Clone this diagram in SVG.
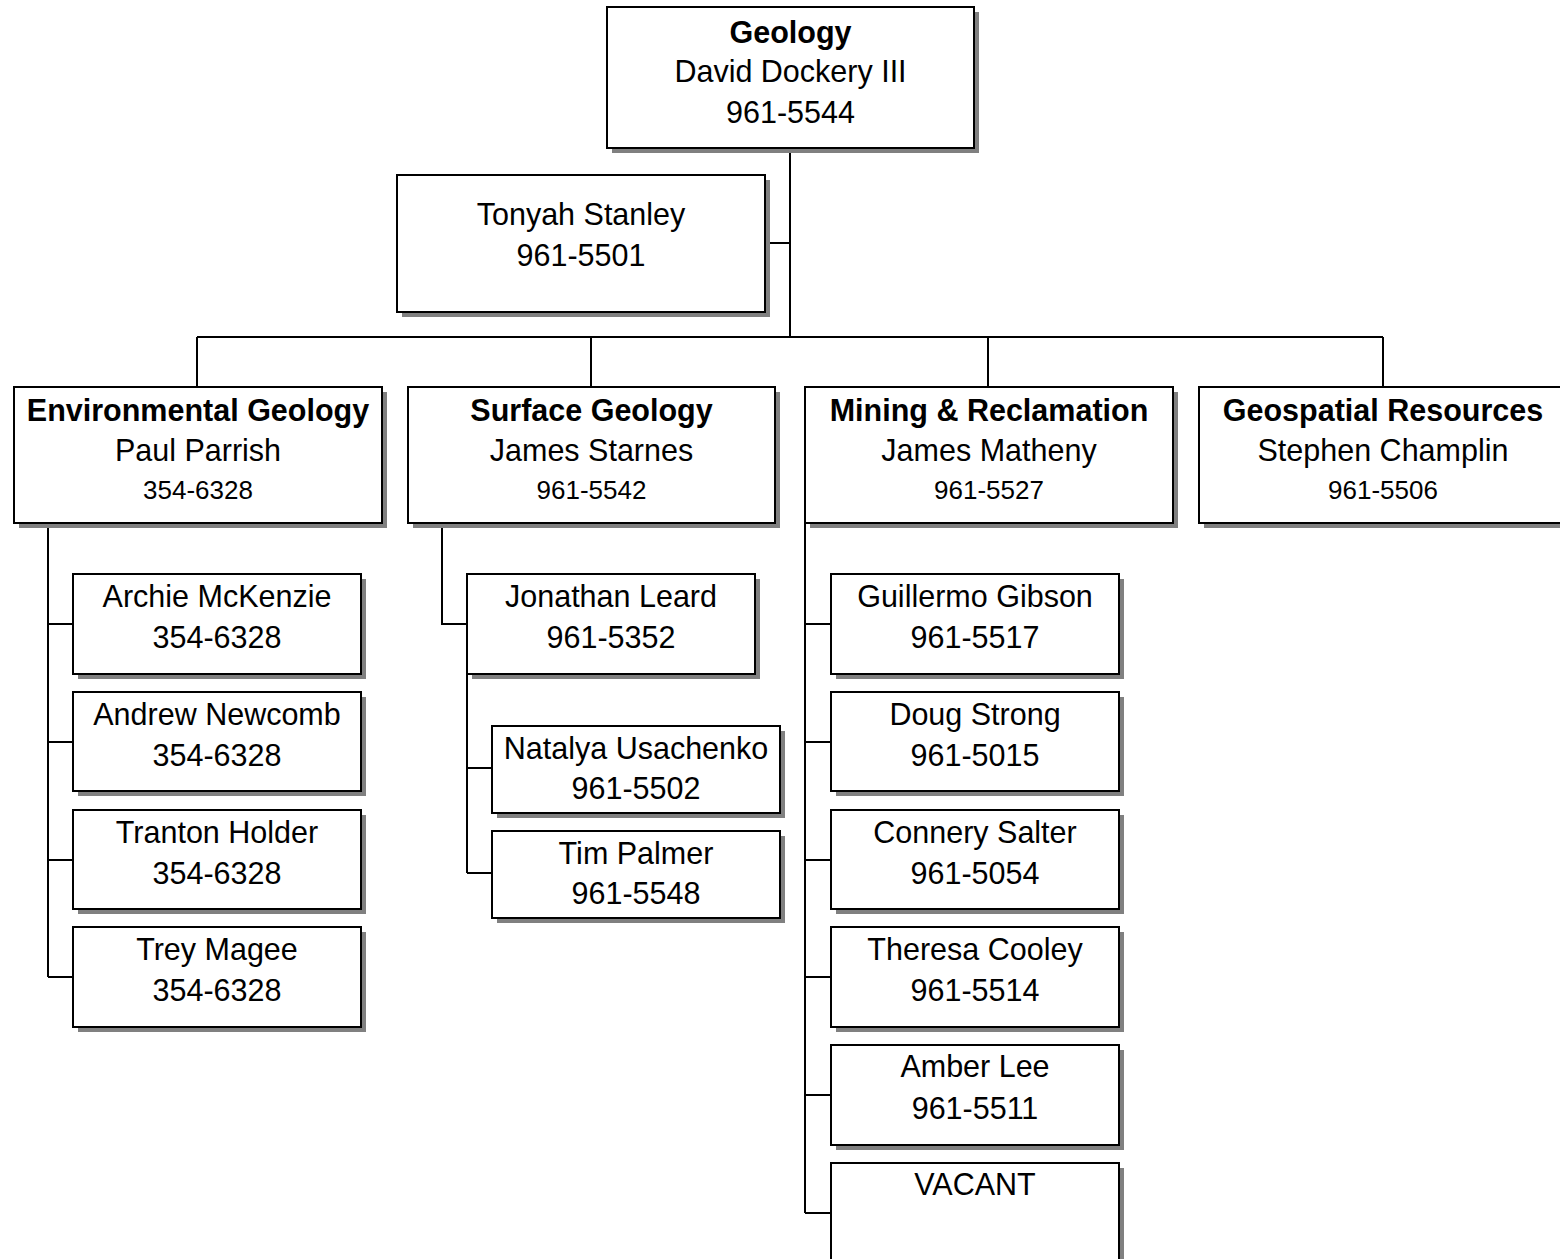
<svg xmlns="http://www.w3.org/2000/svg" width="1560" height="1259" viewBox="0 0 1560 1259">
<style>
.sh{fill:#808080;stroke:none}
.bx{fill:#ffffff;stroke:#000000;stroke-width:2}
text{font-family:"Liberation Sans",Arial,sans-serif;font-size:30.5px;fill:#000000;text-anchor:middle}
.b{font-weight:bold}
.p{font-size:26px}
.c{fill:none;stroke:#000000;stroke-width:2}
</style>
<rect width="1560" height="1259" fill="#ffffff"/>
<g id="connectors">
<path class="c" d="M790,148 V337 M765,243 H790 M197,337 H1383 M197,337 V387 M591,337 V387 M988,337 V387 M1383,337 V387"/>
<path class="c" d="M48,523 V977 M48,624 H73 M48,742 H73 M48,860 H73 M48,977 H73"/>
<path class="c" d="M442,523 V624 H467 M467,674 V873 M467,768 H492 M467,873 H492"/>
<path class="c" d="M805,523 V1213 M805,624 H831 M805,742 H831 M805,860 H831 M805,977 H831 M805,1095 H831 M805,1213 H831"/>
</g>
<g id="geology">
<rect class="sh" x="612" y="12" width="367" height="141"/>
<rect class="bx" x="607" y="7" width="367" height="141"/>
<text x="790.5" y="43" class="b">Geology</text>
<text x="790.5" y="82">David Dockery III</text>
<text x="790.5" y="123">961-5544</text>
</g>
<g id="tonyah">
<rect class="sh" x="402" y="180" width="368" height="137"/>
<rect class="bx" x="397" y="175" width="368" height="137"/>
<text x="581" y="225">Tonyah Stanley</text>
<text x="581" y="266">961-5501</text>
</g>
<g id="env">
<rect class="sh" x="19" y="392" width="368" height="136"/>
<rect class="bx" x="14" y="387" width="368" height="136"/>
<text x="198" y="421" class="b">Environmental Geology</text>
<text x="198" y="461">Paul Parrish</text>
<text x="198" y="499" class="p">354-6328</text>
</g>
<g id="surface">
<rect class="sh" x="413" y="392" width="367" height="136"/>
<rect class="bx" x="408" y="387" width="367" height="136"/>
<text x="591.5" y="421" class="b">Surface Geology</text>
<text x="591.5" y="461">James Starnes</text>
<text x="591.5" y="499" class="p">961-5542</text>
</g>
<g id="mining">
<rect class="sh" x="810" y="392" width="368" height="136"/>
<rect class="bx" x="805" y="387" width="368" height="136"/>
<text x="989" y="421" class="b">Mining &amp; Reclamation</text>
<text x="989" y="461">James Matheny</text>
<text x="989" y="499" class="p">961-5527</text>
</g>
<g id="geospatial">
<rect class="sh" x="1204" y="392" width="368" height="136"/>
<rect class="bx" x="1199" y="387" width="368" height="136"/>
<text x="1383" y="421" class="b">Geospatial Resources</text>
<text x="1383" y="461">Stephen Champlin</text>
<text x="1383" y="499" class="p">961-5506</text>
</g>
<g id="archie">
<rect class="sh" x="78" y="579" width="288" height="100"/>
<rect class="bx" x="73" y="574" width="288" height="100"/>
<text x="217" y="607">Archie McKenzie</text>
<text x="217" y="648">354-6328</text>
</g>
<g id="andrew">
<rect class="sh" x="78" y="697" width="288" height="99"/>
<rect class="bx" x="73" y="692" width="288" height="99"/>
<text x="217" y="725">Andrew Newcomb</text>
<text x="217" y="766">354-6328</text>
</g>
<g id="tranton">
<rect class="sh" x="78" y="815" width="288" height="99"/>
<rect class="bx" x="73" y="810" width="288" height="99"/>
<text x="217" y="843">Tranton Holder</text>
<text x="217" y="884">354-6328</text>
</g>
<g id="trey">
<rect class="sh" x="78" y="932" width="288" height="100"/>
<rect class="bx" x="73" y="927" width="288" height="100"/>
<text x="217" y="960">Trey Magee</text>
<text x="217" y="1001">354-6328</text>
</g>
<g id="jonathan">
<rect class="sh" x="472" y="579" width="288" height="100"/>
<rect class="bx" x="467" y="574" width="288" height="100"/>
<text x="611" y="607">Jonathan Leard</text>
<text x="611" y="648">961-5352</text>
</g>
<g id="natalya">
<rect class="sh" x="497" y="731" width="288" height="87"/>
<rect class="bx" x="492" y="726" width="288" height="87"/>
<text x="636" y="759">Natalya Usachenko</text>
<text x="636" y="799">961-5502</text>
</g>
<g id="tim">
<rect class="sh" x="497" y="836" width="288" height="87"/>
<rect class="bx" x="492" y="831" width="288" height="87"/>
<text x="636" y="864">Tim Palmer</text>
<text x="636" y="904">961-5548</text>
</g>
<g id="guillermo">
<rect class="sh" x="836" y="579" width="288" height="100"/>
<rect class="bx" x="831" y="574" width="288" height="100"/>
<text x="975" y="607">Guillermo Gibson</text>
<text x="975" y="648">961-5517</text>
</g>
<g id="doug">
<rect class="sh" x="836" y="697" width="288" height="99"/>
<rect class="bx" x="831" y="692" width="288" height="99"/>
<text x="975" y="725">Doug Strong</text>
<text x="975" y="766">961-5015</text>
</g>
<g id="connery">
<rect class="sh" x="836" y="815" width="288" height="99"/>
<rect class="bx" x="831" y="810" width="288" height="99"/>
<text x="975" y="843">Connery Salter</text>
<text x="975" y="884">961-5054</text>
</g>
<g id="theresa">
<rect class="sh" x="836" y="932" width="288" height="100"/>
<rect class="bx" x="831" y="927" width="288" height="100"/>
<text x="975" y="960">Theresa Cooley</text>
<text x="975" y="1001">961-5514</text>
</g>
<g id="amber">
<rect class="sh" x="836" y="1050" width="288" height="100"/>
<rect class="bx" x="831" y="1045" width="288" height="100"/>
<text x="975" y="1077">Amber Lee</text>
<text x="975" y="1119">961-5511</text>
</g>
<g id="vacant">
<rect class="sh" x="836" y="1168" width="288" height="110"/>
<rect class="bx" x="831" y="1163" width="288" height="110"/>
<text x="975" y="1195">VACANT</text>
</g>
</svg>
